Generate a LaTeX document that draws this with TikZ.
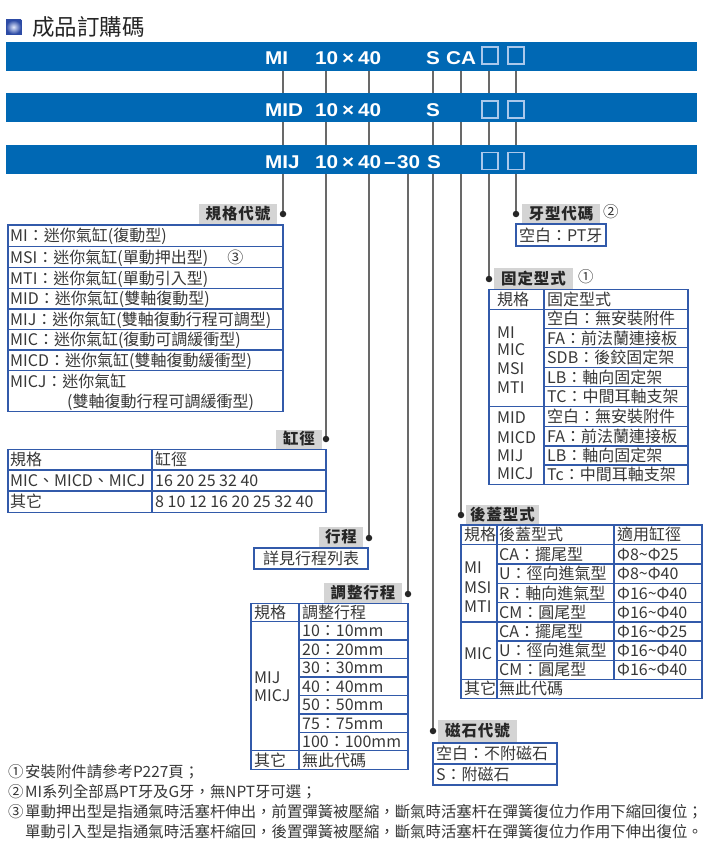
\documentclass[tikz,border=0pt]{standalone}
\usepackage{fontspec}
\setmainfont{Noto Sans CJK TC}
\newfontfamily\barfont{Liberation Sans}[FakeStretch=1.12]
\usetikzlibrary{backgrounds}
\definecolor{barblue}{RGB}{0,104,180}
\definecolor{tblue}{RGB}{50,90,170}
\definecolor{labgray}{RGB}{212,212,212}
\definecolor{conng}{RGB}{105,105,105}
\definecolor{txtc}{RGB}{55,55,55}
\definecolor{sqin}{RGB}{225,232,252}
\definecolor{sqout}{RGB}{45,75,165}
\definecolor{sqline}{RGB}{170,200,235}
\newcounter{nodec}
\newcommand\cl[3]{\stepcounter{nodec}\node[cell] (c\arabic{nodec}) at (#1,#2) {#3};}
\newcommand\nt[3]{\stepcounter{nodec}\node[note] (f\arabic{nodec}) at (#1,#2) {#3};}
\begin{document}
\begin{tikzpicture}[x=1pt,y=-1pt,
 cell/.style={anchor=west, inner sep=0pt, text height=14.08pt, text depth=1.92pt, font=\fontsize{16}{16}\selectfont, text=txtc},
 note/.style={anchor=west, inner sep=0pt, text height=13.5pt, text depth=1.9pt, font=\fontsize{15.4}{15.4}\selectfont, text=txtc},
 lab/.style={fill=labgray, inner sep=0pt, text height=13.6pt, text depth=1.9pt, font=\fontsize{15.5}{16}\selectfont\bfseries\addfontfeature{LetterSpace=6}, text=black!85},
 dotn/.style={circle, fill=black!85, inner sep=0pt, minimum size=6.5pt},
 conn/.style={draw=conng, line width=1.2pt},
 tb/.style={draw=tblue, line width=1.1pt},
 bar/.style={fill=barblue, inner sep=0pt, minimum width=691pt, minimum height=29pt},
 bartxt/.style={anchor=base west, inner sep=0pt, text=white, font=\barfont\bfseries\fontsize{18.5}{18.5}\selectfont},
 sqbox/.style={draw=sqline, line width=1.2pt, inner sep=0pt, minimum width=16pt, minimum height=17pt},
]
\useasboundingbox (0,0) rectangle (707,845);
% title
\shade[inner color=sqin, outer color=sqout] (6,20) rectangle (21,34);
\draw[sqout, line width=0.6pt] (6,20) rectangle (21,34);
\node[anchor=west, inner sep=0pt, text height=19.8pt, text depth=2.7pt, font=\fontsize{22.5}{22.5}\selectfont, text=black!85] (title) at (32,27) {成品訂購碼};
% bars
\node[bar] (bar1) at (351.5,56.5) {};
\node[bar] (bar2) at (351.5,107.5) {};
\node[bar] (bar3) at (351.5,159.5) {};
\node[bartxt] (b1a) at (265,65) {MI};
\node[bartxt] (b1b) at (315,65) {10};
\node[bartxt] (b1c) at (342,65) {×};
\node[bartxt] (b1d) at (358,65) {40};
\node[bartxt] (b1e) at (426,65) {S};
\node[bartxt] (b1f) at (446,65) {CA};
\node[bartxt] (b2a) at (265,117) {MID};
\node[bartxt] (b2b) at (315,117) {10};
\node[bartxt] (b2c) at (342,117) {×};
\node[bartxt] (b2d) at (358,117) {40};
\node[bartxt] (b2e) at (426,117) {S};
\node[bartxt] (b3a) at (265,168) {MIJ};
\node[bartxt] (b3b) at (315,168) {10};
\node[bartxt] (b3c) at (342,168) {×};
\node[bartxt] (b3d) at (358,168) {40};
\node[bartxt] (b3e) at (384,168) {–};
\node[bartxt] (b3f) at (397,168) {30};
\node[bartxt] (b3g) at (427,168) {S};
\node[sqbox] (q1a) at (490,55.5) {};
\node[sqbox] (q1b) at (516,55.5) {};
\node[sqbox] (q2a) at (490,109.5) {};
\node[sqbox] (q2b) at (516,109.5) {};
\node[sqbox] (q3a) at (490,161) {};
\node[sqbox] (q3b) at (516,161) {};
% dots
\node[dotn] (d1) at (283,214) {};
\node[dotn] (d2) at (326,439) {};
\node[dotn] (d3) at (369,538) {};
\node[dotn] (d4) at (408,594) {};
\node[dotn] (d5) at (516,214) {};
\node[dotn] (d6) at (489,279) {};
\node[dotn] (d7) at (461,515) {};
\node[dotn] (d8) at (433,731) {};
\begin{scope}[on background layer]
\draw[conn] (bar1.south -| d1) -- (d1.center);
\draw[conn] (bar1.south -| d2) -- (d2.center);
\draw[conn] (bar1.south -| d3) -- (d3.center);
\draw[conn] (bar3.south -| d4) -- (d4.center);
\draw[conn] (bar1.south -| d5) -- (d5.center);
\draw[conn] (bar1.south -| d6) -- (d6.center);
\draw[conn] (bar1.south -| d7) -- (d7.center);
\draw[conn] (bar1.south -| d8) -- (d8.center);
\end{scope}
% labels
\node[lab, minimum width=78pt, minimum height=20pt] (l1) at (238,214) {規格代號};
\node[lab, minimum width=46pt, minimum height=19pt] (l2) at (299,439) {缸徑};
\node[lab, minimum width=44pt, minimum height=20pt] (l3) at (341,537) {行程};
\node[lab, minimum width=78pt, minimum height=20pt] (l4) at (363,593) {調整行程};
\node[lab, minimum width=78pt, minimum height=20pt] (l5) at (561,214) {牙型代碼};
\node[lab, minimum width=79pt, minimum height=21pt] (l6) at (533.5,278.5) {固定型式};
\node[lab, minimum width=73pt, minimum height=20pt] (l7) at (502.5,515) {後蓋型式};
\node[lab, minimum width=79pt, minimum height=22pt] (l8) at (477.5,731) {磁石代號};
\node[note] (n2) at (603,212) {②};
\node[note] (n1) at (578,277) {①};
% T1 規格代號
\draw[tb] (8,225) rectangle (283,411.7);
\foreach \y in {246.7,267.7,288.3,309,329.7,350,370.7} \draw[tb] (8,\y) -- (283,\y);
\cl{10}{235.8}{MI：迷你氣缸(復動型)}
\cl{10}{257.2}{MSI：迷你氣缸(單動押出型)\hspace{1.2em}③}
\cl{10}{278}{MTI：迷你氣缸(單動引入型)}
\cl{10}{298.7}{MID：迷你氣缸(雙軸復動型)}
\cl{10}{319.3}{MIJ：迷你氣缸(雙軸復動行程可調型)}
\cl{10}{339.8}{MIC：迷你氣缸(復動可調緩衝型)}
\cl{10}{360.3}{MICD：迷你氣缸(雙軸復動緩衝型)}
\cl{10}{381}{MICJ：迷你氣缸}
\cl{67}{401}{(雙軸復動行程可調緩衝型)}
% T2 缸徑
\draw[tb] (8,449.3) rectangle (326,512.3);
\draw[tb] (152,449.3) -- (152,512.3);
\foreach \y in {470,491} \draw[tb] (8,\y) -- (326,\y);
\cl{10}{459.6}{規格}
\cl{155}{459.6}{缸徑}
\cl{10}{480.5}{MIC、MICD、MICJ}
\cl{155}{480.5}{16 20 25 32 40}
\cl{10}{501.6}{其它}
\cl{155}{501.6}{8 10 12 16 20 25 32 40}
% T3 行程
\draw[tb] (254,548) rectangle (368,569);
\stepcounter{nodec}\node[cell, anchor=center] (c\arabic{nodec}) at (311,558.5) {詳見行程列表};
% T4 調整行程
\draw[tb] (251,603.3) rectangle (408,769.3);
\draw[tb] (299,603.3) -- (299,769.3);
\foreach \y in {621.7,750.7} \draw[tb] (251,\y) -- (408,\y);
\foreach \y in {640,658.3,677,695.3,714,732.3} \draw[tb] (299,\y) -- (408,\y);
\cl{254}{612.5}{規格}
\cl{302}{612.5}{調整行程}
\cl{302}{630.9}{10：10mm}
\cl{302}{649.2}{20：20mm}
\cl{302}{667.7}{30：30mm}
\cl{302}{686.2}{40：40mm}
\cl{302}{704.7}{50：50mm}
\cl{302}{723.2}{75：75mm}
\cl{302}{741.5}{100：100mm}
\cl{254}{677}{MIJ}
\cl{254}{695}{MICJ}
\cl{254}{760}{其它}
\cl{302}{760}{無此代碼}
% T5 後蓋型式
\draw[tb] (461,525) rectangle (702,698.3);
\draw[tb] (497,525) -- (497,698.3);
\draw[tb] (614,525) -- (614,679.3);
\foreach \y in {544.3,622,679.3} \draw[tb] (461,\y) -- (702,\y);
\foreach \y in {564,583.3,602.7,641,660.3} \draw[tb] (497,\y) -- (702,\y);
\cl{464}{534.7}{規格}
\cl{499}{534.7}{後蓋型式}
\cl{617}{534.7}{適用缸徑}
\cl{499}{554.2}{CA：擺尾型}
\cl{617}{554.2}{Φ8\textasciitilde Φ25}
\cl{499}{573.7}{U：徑向進氣型}
\cl{617}{573.7}{Φ8\textasciitilde Φ40}
\cl{499}{593}{R：軸向進氣型}
\cl{617}{593}{Φ16\textasciitilde Φ40}
\cl{499}{612.4}{CM：圓尾型}
\cl{617}{612.4}{Φ16\textasciitilde Φ40}
\cl{499}{631.5}{CA：擺尾型}
\cl{617}{631.5}{Φ16\textasciitilde Φ25}
\cl{499}{650.7}{U：徑向進氣型}
\cl{617}{650.7}{Φ16\textasciitilde Φ40}
\cl{499}{669.8}{CM：圓尾型}
\cl{617}{669.8}{Φ16\textasciitilde Φ40}
\cl{464}{567}{MI}
\cl{464}{587}{MSI}
\cl{464}{606}{MTI}
\cl{464}{653}{MIC}
\cl{464}{688.8}{其它}
\cl{499}{688.8}{無此代碼}
% T6 磁石代號
\draw[tb] (433,743) rectangle (557,785);
\draw[tb] (433,764) -- (557,764);
\cl{436}{753.5}{空白：不附磁石}
\cl{436}{774.5}{S：附磁石}
% T7 牙型代碼
\draw[tb] (516,224) rectangle (606,246);
\cl{519}{235}{空白：PT牙}
% T8 固定型式
\draw[tb] (489,289.3) rectangle (688,484.3);
\draw[tb] (544,289.3) -- (544,484.3);
\foreach \y in {309.3,406.7} \draw[tb] (489,\y) -- (688,\y);
\foreach \y in {328.3,347.7,367.3,386.7,426.7,446,465} \draw[tb] (544,\y) -- (688,\y);
\cl{497}{299.3}{規格}
\cl{547}{299.3}{固定型式}
\cl{547}{318.8}{空白：無安裝附件}
\cl{547}{338}{FA：前法蘭連接板}
\cl{547}{357.5}{SDB：後鉸固定架}
\cl{547}{377}{LB：軸向固定架}
\cl{547}{396.7}{TC：中間耳軸支架}
\cl{547}{416.7}{空白：無安裝附件}
\cl{547}{436.3}{FA：前法蘭連接板}
\cl{547}{455.5}{LB：軸向固定架}
\cl{547}{474.7}{Tc：中間耳軸支架}
\cl{497}{332}{MI}
\cl{497}{349}{MIC}
\cl{497}{368}{MSI}
\cl{497}{387}{MTI}
\cl{497}{417}{MID}
\cl{497}{437}{MICD}
\cl{497}{455}{MIJ}
\cl{497}{473}{MICJ}
% footnotes
\nt{8}{772}{①}
\nt{25}{772}{安裝附件請參考P227頁；}
\nt{8}{791.5}{②}
\nt{25}{791.5}{MI系列全部爲PT牙及G牙，無NPT牙可選；}
\nt{8}{812}{③}
\nt{25}{812}{單動押出型是指通氣時活塞杆伸出，前置彈簧被壓縮，斷氣時活塞杆在彈簧復位力作用下縮回復位；}
\nt{25}{832}{單動引入型是指通氣時活塞杆縮回，後置彈簧被壓縮，斷氣時活塞杆在彈簧復位力作用下伸出復位。}
\end{tikzpicture}
\end{document}
